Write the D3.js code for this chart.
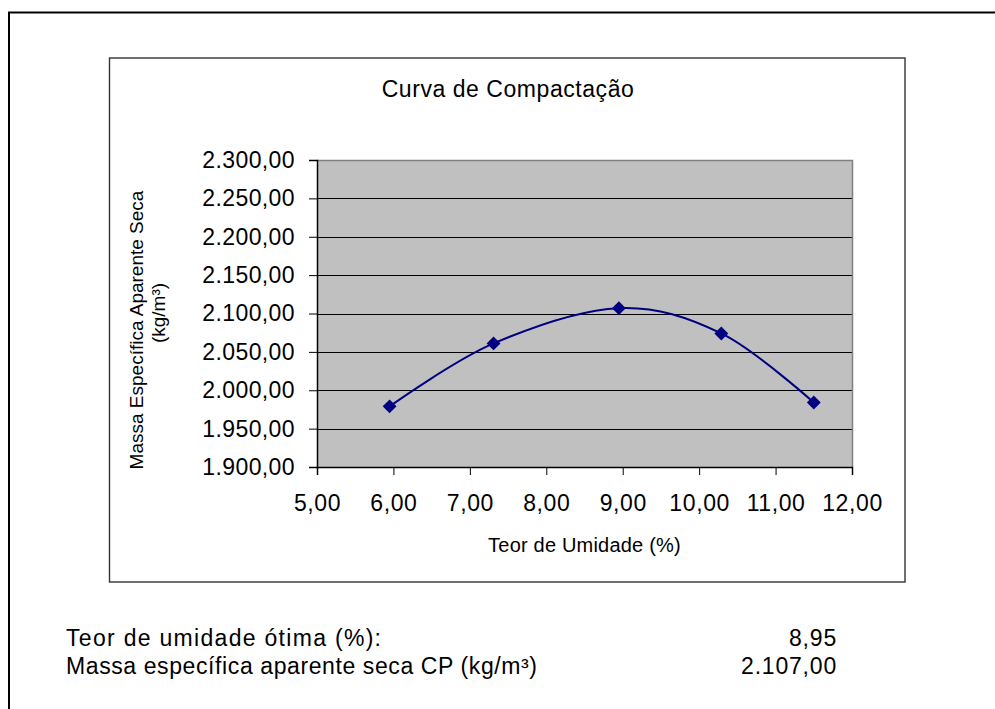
<!DOCTYPE html>
<html>
<head>
<meta charset="utf-8">
<script src="https://cdn.jsdelivr.net/npm/d3@7"></script>
<style>
  html, body { margin: 0; padding: 0; background: #fff; }
  svg { display: block; font-family: "Liberation Sans", Arial, sans-serif; }
</style>
</head>
<body>
<svg id="chart" width="995" height="709"></svg>
<script>
// ---- data ----
const umidade = [5.95, 7.31, 8.95, 10.29, 11.50];          // Teor de Umidade (%)
const massa = [1979, 2061, 2107, 2074, 1984];              // Massa Específica Aparente Seca (kg/m³)
const xTicks = [5, 6, 7, 8, 9, 10, 11, 12];
const yTicks = [1900, 1950, 2000, 2050, 2100, 2150, 2200, 2250, 2300];
const chartTitle = "Curva de Compactação";
const xTitle = "Teor de Umidade (%)";
const yTitleLines = ["Massa Específica Aparente Seca", "(kg/m³)"];
const summaryLabels = ["Teor de umidade ótima (%):", "Massa específica aparente seca CP (kg/m³)"];
const summaryValues = [8.95, 2107.00];

const locale = d3.formatLocale({decimal: ",", thousands: ".", grouping: [3], currency: ["R$", ""]});
const fmt = locale.format(",.2f");

const svg = d3.select("#chart");

// outer frame
svg.append("rect").attr("x", 9).attr("y", 12.5).attr("width", 1000).attr("height", 720)
  .attr("fill", "none").attr("stroke", "#000").attr("stroke-width", 2);

// chart area
svg.append("rect").attr("x", 109.5).attr("y", 58).attr("width", 795.5).attr("height", 524)
  .attr("fill", "#fff").attr("stroke", "#333").attr("stroke-width", 1.4);

const plot = {left: 317, top: 160, right: 852, bottom: 467};
const x = d3.scaleLinear().domain([5, 12]).range([plot.left, plot.right]);
const y = d3.scaleLinear().domain([1900, 2300]).range([plot.bottom, plot.top]);

// plot background
svg.append("rect").attr("x", plot.left).attr("y", plot.top)
  .attr("width", plot.right - plot.left).attr("height", plot.bottom - plot.top)
  .attr("fill", "#C0C0C0");

// gridlines
svg.append("g").selectAll("line").data(yTicks.slice(1)).join("line")
  .attr("x1", plot.left).attr("x2", plot.right)
  .attr("y1", d => Math.round(y(d)) + 0.5).attr("y2", d => Math.round(y(d)) + 0.5)
  .attr("stroke", "#000").attr("stroke-width", 1);

// plot border top/right
svg.append("path")
  .attr("d", `M${plot.left},${plot.top + 0.5}H${plot.right + 0.5}V${plot.bottom}`)
  .attr("fill", "none").attr("stroke", "#808080").attr("stroke-width", 1.5);

// axes
const yAxis = d3.axisLeft(y).tickValues(yTicks).tickFormat(fmt).tickSize(8).tickPadding(14);
const gy = svg.append("g").attr("transform", `translate(${plot.left},0)`).call(yAxis);
gy.select(".domain").attr("stroke", "#000").attr("stroke-width", 1.5);
gy.selectAll(".tick line").attr("stroke", "#000");
gy.selectAll(".tick text").attr("font-size", 23).attr("fill", "#000")
  .attr("font-family", "Liberation Sans, Arial, sans-serif").style("letter-spacing", "0.4px");

const xAxis = d3.axisBottom(x).tickValues(xTicks).tickFormat(fmt).tickSize(8).tickPadding(20);
const gx = svg.append("g").attr("transform", `translate(0,${plot.bottom})`).call(xAxis);
gx.select(".domain").attr("stroke", "#000").attr("stroke-width", 1.5);
gx.selectAll(".tick line").attr("stroke", "#000");
gx.selectAll(".tick text").attr("font-size", 23).attr("fill", "#000")
  .attr("font-family", "Liberation Sans, Arial, sans-serif").style("letter-spacing", "0.6px");

// series
const pts = umidade.map((u, i) => [u, massa[i]]);
const line = d3.line().x(d => x(d[0])).y(d => y(d[1])).curve(d3.curveCardinal.tension(0));
svg.append("path").attr("d", line(pts)).attr("fill", "none")
  .attr("stroke", "#000080").attr("stroke-width", 2);

svg.append("g").selectAll("path").data(pts).join("path")
  .attr("d", d3.symbol().type(d3.symbolSquare).size(96))
  .attr("transform", d => `translate(${x(d[0])},${y(d[1])}) rotate(45)`)
  .attr("fill", "#000080");

// title
svg.append("text").attr("x", 508).attr("y", 97).attr("text-anchor", "middle")
  .attr("font-size", 23).style("letter-spacing", "0.55px").text(chartTitle);

// x axis title
svg.append("text").attr("x", (plot.left + plot.right) / 2).attr("y", 552).attr("text-anchor", "middle")
  .attr("font-size", 20).style("letter-spacing", "0.2px").text(xTitle);

// y axis title
const yt = svg.append("text").attr("transform", "rotate(-90)")
  .attr("text-anchor", "middle").attr("font-size", 19);
yt.append("tspan").attr("x", -330).attr("y", 143).text(yTitleLines[0]);
yt.append("tspan").attr("x", -313).attr("y", 165).text(yTitleLines[1]);

// summary lines
const summarySpacing = ["1.3px", "0.6px"];
const sg = svg.append("g").attr("font-size", 23);
sg.selectAll("text.lbl").data(summaryLabels).join("text").attr("class", "lbl")
  .attr("x", 66).attr("y", (d, i) => 646 + i * 28)
  .style("letter-spacing", (d, i) => summarySpacing[i]).text(d => d);
sg.selectAll("text.val").data(summaryValues).join("text").attr("class", "val")
  .attr("x", 837).attr("y", (d, i) => 646 + i * 28).attr("text-anchor", "end")
  .style("letter-spacing", "0.8px").text(d => fmt(d));
</script>
</body>
</html>
